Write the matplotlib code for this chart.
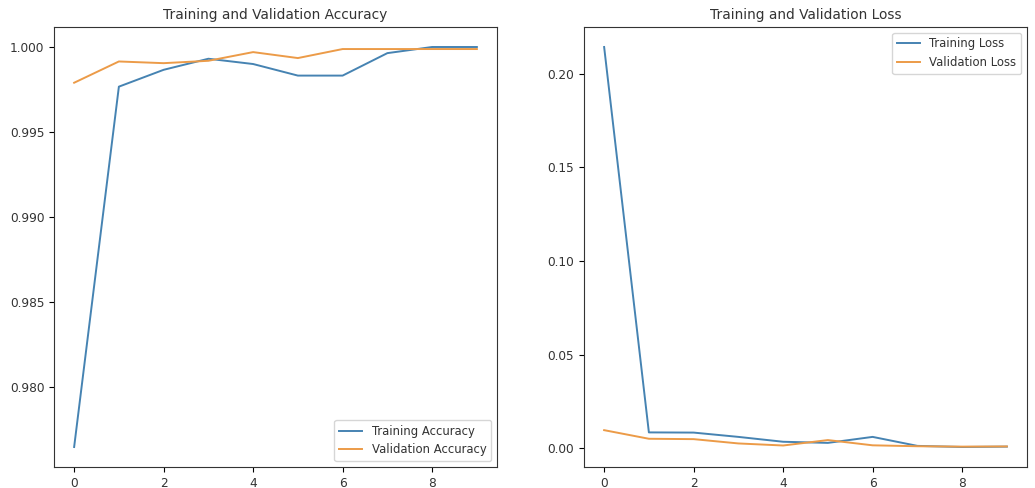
import matplotlib
matplotlib.use("Agg")
import matplotlib.pyplot as plt

epochs = list(range(10))
train_acc = [0.9765, 0.99767, 0.99866, 0.99931, 0.99900, 0.99832, 0.99832, 0.99964, 1.0000, 1.0000]
val_acc = [0.9979, 0.99915, 0.99905, 0.99919, 0.99970, 0.99935, 0.99988, 0.99988, 0.99988, 0.99988]
train_loss = [0.2143, 0.0084, 0.0083, 0.0060, 0.0034, 0.0028, 0.0060, 0.0012, 0.0006, 0.0008]
val_loss = [0.0096, 0.0050, 0.0048, 0.0025, 0.0014, 0.0043, 0.0015, 0.0010, 0.0008, 0.0009]

blue = '#4683b2'
orange = '#ec9b48'

plt.rcParams['font.size'] = 8.7
plt.rcParams['text.color'] = '#333333'
plt.rcParams['xtick.labelcolor'] = '#333333'
plt.rcParams['ytick.labelcolor'] = '#333333'
plt.rcParams['axes.edgecolor'] = '#333333'
fig = plt.figure(figsize=(10.35, 4.88), dpi=100)
W, H = 1035, 488
ax1 = fig.add_axes([54 / W, 1 - 467 / H, (497 - 54) / W, (467 - 27) / H])
ax2 = fig.add_axes([584 / W, 1 - 467 / H, (1027 - 584) / W, (467 - 27) / H])

ax1.plot(epochs, train_acc, label='Training Accuracy', lw=1.4, color=blue)
ax1.plot(epochs, val_acc, label='Validation Accuracy', lw=1.4, color=orange)
ax1.legend(loc='lower right', fontsize=8.4)
ax1.set_title('Training and Validation Accuracy', fontsize=9.9)

ax2.plot(epochs, train_loss, label='Training Loss', lw=1.4, color=blue)
ax2.plot(epochs, val_loss, label='Validation Loss', lw=1.4, color=orange)
ax2.legend(loc='upper right', fontsize=8.4)
ax2.set_title('Training and Validation Loss', fontsize=9.9)

fig.savefig('out.png', dpi=100)
